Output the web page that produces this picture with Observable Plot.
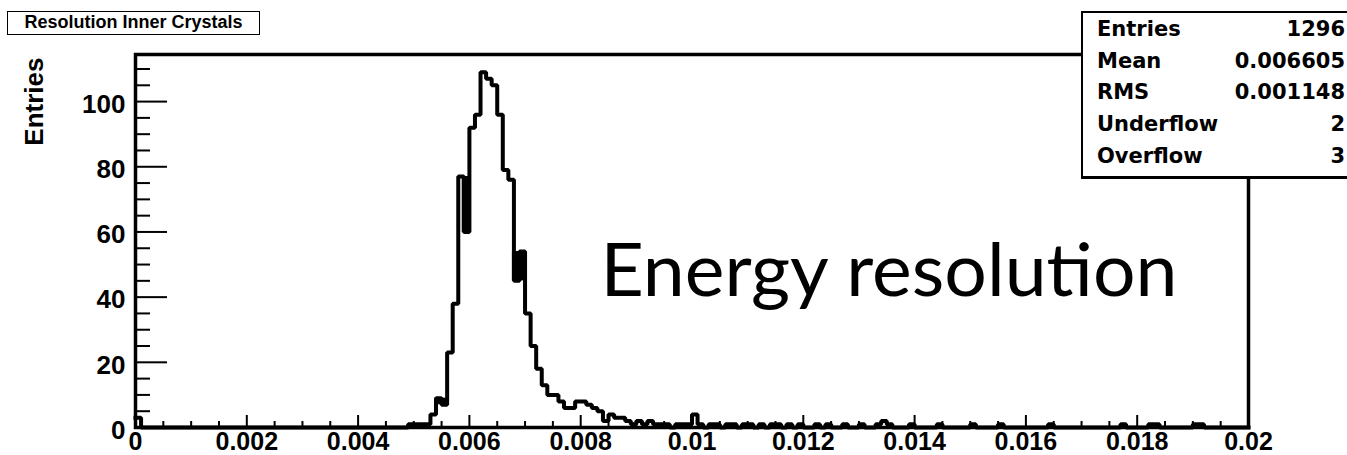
<!DOCTYPE html>
<html>
<head>
<meta charset="utf-8">
<script src="https://cdn.jsdelivr.net/npm/d3@7"></script>
<script src="https://cdn.jsdelivr.net/npm/@observablehq/plot@0.6"></script>
<style>
  body { margin: 0; background: #fff; }
  #wrap { position: relative; width: 1347px; height: 455px; overflow: hidden; background: #fff; }
  #wrap svg { position: absolute; left: 0; top: 0; }
  #title { position: absolute; left: 7px; top: 11px; width: 253px; height: 24px; box-sizing: border-box;
           border: 1.5px solid #000; background: #fff; text-align: center;
           font: bold 18px "Liberation Sans", Arial, sans-serif; line-height: 21px; color: #000; }
  #stats { position: absolute; left: 1081px; top: 11px; width: 272px; height: 168px; box-sizing: border-box;
           border: 2px solid #000; border-bottom-width: 3px; background: #fff; padding: 1px 6px 0 14px;
           font: bold 21px "DejaVu Sans", sans-serif; color: #000; }
  #stats .row { display: flex; justify-content: space-between; height: 31.7px; line-height: 31.7px; }
</style>
</head>
<body>
<div id="wrap">
  <div id="chart"></div>
  <div id="title"></div>
  <div id="stats"></div>
</div>
<script>
// ---- data ----
const histTitle = "Resolution Inner Crystals";
const yTitle = "Entries";
const annotation = "Energy resolution";
const xMin = 0, xMax = 0.02, nBins = 200;
const yMax = 114.45;
// bin contents, bins 0..199 (width 0.0001)
const counts = [
  3,0,0,0,0,0,0,0,0,0,
  0,0,0,0,0,0,0,0,0,0,
  0,0,0,0,0,0,0,0,0,0,
  0,0,0,0,0,0,0,0,0,0,
  0,0,0,0,0,0,0,0,0,1,
  1,1,1,4,9,7,23,38,77,60,
  92,96,109,107,105,96,79,76,45,54,
  35,25,18,13,10,10,8,6,6,8,
  8,7,6,5,2,4,3,3,2,1,
  2,1,2,1,1,1,0,1,1,1,
  4,1,0,1,1,0,1,1,0,1,
  1,0,1,0,1,1,0,1,0,1,
  0,0,1,0,1,0,0,1,0,0,
  1,0,0,1,2,1,0,0,0,1,
  0,0,0,0,1,0,0,0,0,0,
  1,0,0,0,0,1,0,0,0,0,
  0,0,0,0,1,0,0,0,0,0,
  0,0,0,0,0,0,0,1,0,0,
  0,0,1,1,0,0,0,0,0,0,
  1,1,0,0,0,0,0,0,0,0
];
// dark filled bin regions seen in the picture
const blockStart = [0.0054, 0.0059, 0.0068];
const blockEnd   = [0.0056, 0.0060, 0.0070];
const blockLow   = [7, 60, 45];
const blockHigh  = [9, 77, 54];
// axes
const xMajor = [0, 0.002, 0.004, 0.006, 0.008, 0.01, 0.012, 0.014, 0.016, 0.018, 0.02];
const xLabels = ["0", "0.002", "0.004", "0.006", "0.008", "0.01", "0.012", "0.014", "0.016", "0.018", "0.02"];
const yMajor = [0, 20, 40, 60, 80, 100];
const yLabels = ["0", "20", "40", "60", "80", "100"];
const xMinorStep = 0.0005, yMinorStep = 5;
// stats box
const statNames = ["Entries", "Mean", "RMS", "Underflow", "Overflow"];
const statValues = ["1296", "0.006605", "0.001148", "2", "3"];

// ---- build ----
const W = 1347, H = 455, mL = 135, mR = 99, mT = 54, mB = 28;
const plotW = W - mL - mR, plotH = H - mT - mB;
const binW = (xMax - xMin) / nBins;
const pts = counts.map((c, i) => ({x: xMin + i * binW, y: c}));
pts.push({x: xMax, y: counts[counts.length - 1]});
const xMinor = d3.range(0, Math.round((xMax - xMin) / xMinorStep) + 1).map(k => xMin + k * xMinorStep).filter(v => !xMajor.some(m => Math.abs(m - v) < 1e-9));
const yMinor = d3.range(yMinorStep, yMax, yMinorStep).filter(v => !yMajor.includes(v));
const blocks = blockStart.map((s, i) => ({x1: s, x2: blockEnd[i], y1: blockLow[i], y2: blockHigh[i]}));

const font = "'Liberation Sans', Arial, Helvetica, sans-serif";
const chart = Plot.plot({
  width: W, height: H,
  marginLeft: mL, marginRight: mR, marginTop: mT, marginBottom: mB,
  style: {fontFamily: font, background: "transparent", color: "#000", overflow: "visible"},
  x: {domain: [xMin, xMax], axis: null},
  y: {domain: [0, yMax], axis: null},
  marks: [
    Plot.ruleY(yMinor, {y: d => d, insetRight: plotW - 15, stroke: "#000", strokeWidth: 2}),
    Plot.ruleY(yMajor, {y: d => d, insetRight: plotW - 32, stroke: "#000", strokeWidth: 2}),
    Plot.ruleX(xMinor, {x: d => d, insetTop: plotH - 6, stroke: "#000", strokeWidth: 2}),
    Plot.ruleX(xMajor, {x: d => d, insetTop: plotH - 12, stroke: "#000", strokeWidth: 2}),
    Plot.rect(blocks, {x1: "x1", x2: "x2", y1: "y1", y2: "y2", fill: "#000", insetLeft: -1.5, insetRight: -1.5}),
    Plot.line(pts, {x: "x", y: "y", curve: "step-after", stroke: "#000", strokeWidth: 4, strokeLinejoin: "miter", strokeLinecap: "square"}),
    Plot.frame({stroke: "#000", strokeWidth: 3.5}),
    Plot.text(yMajor, {x: xMin, y: d => d, text: (d, i) => yLabels[i], textAnchor: "end", dx: -10, dy: 3, fontSize: 26, fontWeight: "bold", fill: "#000"}),
    Plot.text(xMajor, {x: d => d, frameAnchor: "bottom", text: (d, i) => xLabels[i], lineAnchor: "top", dy: 5, fontSize: 25, fontWeight: "bold", fill: "#000"}),
    Plot.text([yTitle], {frameAnchor: "top-left", rotate: -90, textAnchor: "end", dx: -111, dy: 3, fontSize: 26, fontWeight: "bold", fill: "#000"}),
    Plot.text([annotation], {frameAnchor: "top-left", textAnchor: "start", lineAnchor: "top", dx: 465, dy: 189, fontSize: 74, fontFamily: "Lato, 'Open Sans', sans-serif", fill: "#000"})
  ]
});
document.getElementById("chart").appendChild(chart);
d3.select(chart).selectAll("text").filter(function () { return this.textContent === annotation; })
  .attr("textLength", 577).attr("lengthAdjust", "spacingAndGlyphs");

document.getElementById("title").textContent = histTitle;
const stats = d3.select("#stats");
statNames.forEach((n, i) => {
  const r = stats.append("div").attr("class", "row");
  r.append("span").text(n);
  r.append("span").text(statValues[i]);
});
</script>
</body>
</html>
